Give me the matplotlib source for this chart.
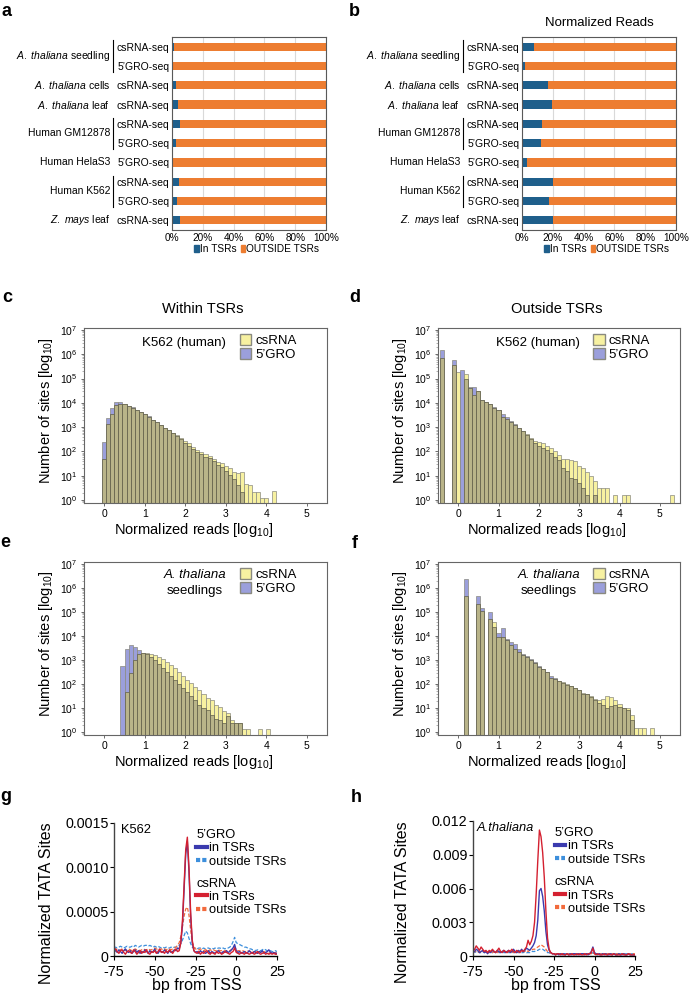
import matplotlib
matplotlib.use('Agg')
import matplotlib.pyplot as plt
import numpy as np
from matplotlib.patches import Patch
from matplotlib.lines import Line2D
from matplotlib.transforms import blended_transform_factory

plt.rcParams['font.family'] = ['Liberation Sans', 'DejaVu Sans']
plt.rcParams['mathtext.fontset'] = 'custom'
plt.rcParams['mathtext.rm'] = 'Liberation Sans'
plt.rcParams['mathtext.it'] = 'Liberation Sans:italic'

# ---------------- data: panels a / b ----------------
row_labels = ['csRNA-seq', '5’GRO-seq', 'csRNA-seq', 'csRNA-seq', 'csRNA-seq',
              '5’GRO-seq', '5’GRO-seq', 'csRNA-seq', '5’GRO-seq', 'csRNA-seq']
group_labels = [r'$\mathit{A.\ thaliana}$ seedling', r'$\mathit{A.\ thaliana}$ cells',
                r'$\mathit{A.\ thaliana}$ leaf', 'Human GM12878', 'Human HelaS3',
                'Human K562', r'$\mathit{Z.\ mays}$ leaf']
group_rows = [(0, 1), (2, 2), (3, 3), (4, 5), (6, 6), (7, 8), (9, 9)]
in_tsr_sites = [1.5, 0.5, 2.6, 3.9, 5.2, 2.4, 0.6, 4.5, 3.0, 5.4]      # % of sites
in_tsr_reads = [8.0, 2.2, 17.0, 19.3, 13.0, 12.5, 3.0, 20.0, 17.3, 20.0]  # % of normalized reads

# ---------------- data: histograms (log10 of number of sites, None = empty bin) ----------------
c_first = 0.0
c_cs = [1.71, 3.13, 3.53, 3.91, 3.96, 3.94, 3.87, 3.80, 3.70, 3.61,
        3.53, 3.43, 3.29, 3.20, 3.09, 2.98, 2.88, 2.78, 2.67, 2.57,
        2.42, 2.33, 2.19, 2.06, 1.96, 1.88, 1.82, 1.69, 1.58, 1.52,
        1.40, 1.30, 1.17, 1.10, 1.17, 0.68, 0.62, 0.34, 0.34, 0.07,
        0.07, None, 0.37]
c_gro = [2.37, 3.36, 3.80, 4.02, 4.02, 3.94, 3.88, 3.81, 3.72, 3.63,
         3.55, 3.46, 3.31, 3.21, 3.10, 2.98, 2.87, 2.76, 2.64, 2.53,
         2.35, 2.24, 2.10, 1.96, 1.88, 1.78, 1.74, 1.62, 1.44, 1.37,
         1.20, 1.05, 0.85, 0.62, 0.35, None, None, None, None, None,
         None, None, None]

d_first = -0.4
d_cs = [5.83, None, None, 5.56, 5.28, None, 5.17, 4.62, 4.32, 4.49,
        4.10, 4.02, 3.94, 3.80,
        3.70, 3.43, 3.33, 3.20, 3.09, 2.95, 2.84, 2.70, 2.55, 2.45,
        2.40, 2.33, 2.24, 2.15, 2.02, 1.85, 1.71, 1.71, 1.65, 1.60,
        1.40, 1.30, 1.15, 1.00, 0.80, 0.48, 0.48, 0.48, None, 0.20,
        None, 0.20, 0.20, None, None, None, None, None, None, None,
        None, None, None, 0.20]
d_gro = [6.17, None, None, 5.76, None, 5.35, 5.00, 4.66, 4.66, 4.49,
         4.12, 4.05, 3.95, 3.82,
         3.72, 3.53, 3.43, 3.25, 3.12, 2.96, 2.84, 2.67, 2.50, 2.35,
         2.24, 2.15, 2.05, 1.95, 1.78, 1.65, 1.30, 1.19, 0.89, 0.86,
         0.69, 0.48, 0.20, None, 0.20, None, None, None, None, None,
         None, None, None, None, None, None, None, None, None, None,
         None, None, None, None]

e_first = 0.45
e_cs = [None, 1.69, 2.44, 2.99, 3.26, 3.31, 3.31, 3.26, 3.22, 3.13,
        3.04, 2.92, 2.78, 2.65, 2.51, 2.33, 2.17, 2.03, 1.89, 1.76,
        1.59, 1.41, 1.32, 1.14, 1.04, 0.86, 0.80, 0.52, 0.38, 0.38,
        0.11, 0.11, None, None, 0.11, None, 0.11]
e_gro = [2.74, 3.47, 3.61, 3.54, 3.40, 3.31, 3.24, 3.13, 2.99, 2.83,
         2.65, 2.51, 2.33, 2.17, 2.00, 1.82, 1.69, 1.51, 1.34, 1.13,
         1.00, 0.91, 0.73, 0.55, 0.52, 0.38, 0.69, 0.38, 0.38, 0.38,
         None, None, None, None, None, None, None]

f_first = 0.2
f_cs = [5.67, None, None, 5.32, 5.02, None, 4.71, 4.57,
        3.95, 3.95, 3.85, 3.61, 3.47, 3.33, 3.20, 3.13, 3.02, 2.88,
        2.72, 2.61, 2.51, 2.24, 2.20, 2.14, 2.10, 2.01, 1.92, 1.82,
        1.76, 1.62, 1.59, 1.51, 1.37, 1.32, 1.37, 1.51, 1.48, 1.32,
        1.18, 1.00, 1.00, 0.73, 0.18, 0.18, 0.18, None, 0.18]
f_gro = [6.39, None, None, 5.67, 5.16, None, 4.98, 4.36,
         4.12, 4.33, 3.88, 3.74, 3.65, 3.47, 3.26, 3.15, 3.03, 2.90,
         2.74, 2.62, 2.52, 2.33, 2.24, 2.13, 2.06, 1.96, 1.91, 1.82,
         1.75, 1.59, 1.58, 1.48, 1.32, 1.21, 1.14, 1.00, 1.07, 1.14,
         1.04, 1.00, 0.93, 0.52, None, None, None, None, None]

# ---------------- data: TATA profiles (bp -75..25) ----------------
bp = list(range(-75, 26))
# panel g, units of 1e-4
g_gro_in = [0.5, 0.6, 0.4, 0.7, 0.5, 0.3, 0.6, 0.8, 0.5, 0.4,
            0.6, 0.3, 0.5, 0.7, 0.4, 0.6, 0.3, 0.5, 0.4, 0.7,
            0.5, 0.3, 0.6, 0.4, 0.5, 0.8, 0.4, 0.3, 0.6, 0.5,
            0.4, 0.7, 0.5, 0.3, 0.6, 0.4, 0.5, 0.7, 0.6, 0.9,
            0.8, 1.5, 3.5, 7.5, 11.5, 12.9, 9.5, 4.5, 1.5, 0.6,
            0.4, 0.5, 0.3, 0.6, 0.4, 0.5, 0.3, 0.4, 0.6, 0.3,
            0.5, 0.4, 0.3, 0.5, 0.6, 0.4, 0.3, 0.5, 0.4, 0.6,
            0.4, 0.5, 0.7, 0.9, 1.3, 0.6, 0.4, 0.5, 0.3, 0.4,
            0.5, 0.3, 0.4, 0.6, 0.4, 0.3, 0.5, 0.4, 0.3, 0.5,
            0.4, 0.6, 0.3, 0.4, 0.5, 0.7, 0.4, 0.3, 0.4, 0.3,
            0.3]
g_gro_out = [0.9, 1.0, 0.9, 1.0, 1.1, 1.0, 0.9, 1.0, 1.1, 1.0,
             1.0, 1.1, 1.0, 1.2, 1.1, 1.0, 1.1, 1.2, 1.1, 1.2,
             1.2, 1.1, 1.2, 1.1, 1.0, 1.1, 1.0, 1.1, 1.0, 0.9,
             1.0, 0.9, 1.0, 0.9, 0.9, 1.0, 0.9, 1.0, 1.0, 1.1,
             1.2, 1.4, 1.8, 2.3, 2.8, 2.6, 2.0, 1.4, 1.0, 0.9,
             0.9, 0.8, 0.9, 0.9, 0.8, 0.9, 0.8, 0.9, 0.9, 0.8,
             0.9, 0.8, 0.9, 0.8, 0.9, 0.9, 0.8, 0.9, 0.8, 0.9,
             0.9, 1.0, 1.2, 1.6, 2.1, 1.5, 1.4, 1.3, 1.2, 1.1,
             1.0, 1.0, 0.9, 0.8, 0.8, 0.7, 0.7, 0.6, 0.7, 0.6,
             0.6, 0.7, 0.8, 0.7, 0.6, 0.5, 0.6, 0.5, 0.5, 0.6,
             0.5]
g_cs_in = [0.6, 0.8, 0.5, 0.3, 0.6, 0.7, 0.4, 0.2, 0.5, 0.6,
           0.4, 0.3, 0.7, 0.5, 0.2, 0.4, 0.6, 0.3, 0.5, 0.4,
           0.7, 0.3, 0.2, 0.5, 0.4, 0.6, 0.3, 0.5, 0.8, 0.4,
           0.5, 0.3, 0.6, 0.4, 0.7, 0.5, 0.3, 0.6, 0.8, 0.5,
           0.6, 1.5, 4.0, 8.0, 12.0, 13.4, 10.0, 5.0, 1.8, 0.6,
           0.4, 0.3, 0.5, 0.2, 0.4, 0.3, 0.5, 0.6, 0.3, 0.2,
           0.4, 0.3, 0.2, 0.5, 0.3, 0.4, 0.2, 0.3, 0.5, 0.4,
           0.3, 0.2, 0.4, 0.5, 0.9, 0.4, 0.3, 0.2, 0.4, 0.3,
           0.2, 0.4, 0.3, 0.2, 0.3, 0.4, 0.2, 0.3, 0.5, 0.3,
           0.2, 0.3, 0.4, 0.2, 0.3, 0.2, 0.3, 0.2, 0.3, 0.2,
           0.2]
g_cs_out = [0.7, 0.8, 0.7, 0.6, 0.7, 0.8, 0.7, 0.6, 0.7, 0.8,
            0.7, 0.6, 0.7, 0.8, 0.7, 0.7, 0.6, 0.7, 0.8, 0.7,
            0.7, 0.8, 0.7, 0.7, 0.8, 0.9, 0.8, 0.7, 0.7, 0.8,
            0.7, 0.8, 0.7, 0.8, 0.8, 0.7, 0.8, 0.9, 1.0, 1.2,
            1.5, 2.2, 3.3, 4.5, 5.3, 5.5, 4.6, 3.0, 1.6, 1.0,
            0.8, 0.7, 0.7, 0.8, 0.7, 0.6, 0.7, 0.7, 0.6, 0.7,
            0.6, 0.7, 0.6, 0.6, 0.7, 0.6, 0.6, 0.5, 0.6, 0.6,
            0.6, 0.6, 0.7, 0.8, 1.0, 0.7, 0.6, 0.6, 0.5, 0.6,
            0.5, 0.5, 0.6, 0.5, 0.5, 0.4, 0.5, 0.5, 0.4, 0.5,
            0.4, 0.4, 0.5, 0.4, 0.4, 0.3, 0.4, 0.4, 0.3, 0.4,
            0.3]
# panel h, units of 1e-3
h_gro_in = [0.3, 0.4, 0.6, 0.5, 0.3, 0.4, 0.5, 0.3, 0.4, 0.2,
            0.4, 0.3, 0.5, 0.4, 0.3, 0.5, 0.4, 0.3, 0.4, 0.5,
            0.3, 0.4, 0.5, 0.3, 0.4, 0.6, 0.4, 0.3, 0.5, 0.4,
            0.6, 0.4, 0.5, 0.7, 0.6, 0.5, 0.7, 0.9, 1.2, 1.8,
            3.2, 5.8, 6.0, 5.3, 4.0, 2.2, 1.0, 0.5, 0.3, 0.2,
            0.2, 0.1, 0.2, 0.1, 0.2, 0.1, 0.2, 0.1, 0.2, 0.1,
            0.2, 0.1, 0.2, 0.2, 0.1, 0.2, 0.1, 0.2, 0.2, 0.1,
            0.2, 0.1, 0.2, 0.4, 0.8, 0.3, 0.2, 0.1, 0.2, 0.1,
            0.2, 0.1, 0.2, 0.1, 0.1, 0.2, 0.1, 0.2, 0.1, 0.1,
            0.2, 0.1, 0.1, 0.2, 0.1, 0.1, 0.2, 0.1, 0.1, 0.1,
            0.1]
h_gro_out = [0.3, 0.4, 0.3, 0.4, 0.3, 0.3, 0.4, 0.3, 0.4, 0.3,
             0.4, 0.3, 0.3, 0.4, 0.3, 0.4, 0.3, 0.3, 0.4, 0.3,
             0.3, 0.4, 0.3, 0.3, 0.4, 0.3, 0.3, 0.4, 0.3, 0.3,
             0.3, 0.3, 0.4, 0.3, 0.3, 0.3, 0.4, 0.4, 0.4, 0.5,
             0.5, 0.6, 0.6, 0.6, 0.5, 0.4, 0.3, 0.3, 0.2, 0.2,
             0.2, 0.2, 0.2, 0.2, 0.2, 0.2, 0.2, 0.2, 0.2, 0.2,
             0.2, 0.2, 0.2, 0.2, 0.2, 0.2, 0.2, 0.2, 0.2, 0.2,
             0.2, 0.2, 0.2, 0.2, 0.3, 0.2, 0.2, 0.2, 0.2, 0.2,
             0.2, 0.2, 0.2, 0.2, 0.2, 0.2, 0.2, 0.2, 0.2, 0.2,
             0.2, 0.2, 0.2, 0.2, 0.2, 0.2, 0.2, 0.2, 0.2, 0.2,
             0.2]
h_cs_in = [0.4, 0.6, 0.9, 0.7, 0.5, 0.8, 0.6, 0.4, 0.5, 0.3,
           0.5, 0.4, 0.6, 0.4, 0.3, 0.5, 0.7, 0.4, 0.3, 0.5,
           0.4, 0.3, 0.5, 0.4, 0.6, 0.4, 0.3, 0.5, 0.4, 0.3,
           0.5, 0.4, 0.6, 0.8, 1.4, 1.0, 1.3, 1.8, 3.0, 5.5,
           8.5, 11.2, 10.6, 9.2, 7.0, 4.0, 1.6, 0.6, 0.3, 0.2,
           0.2, 0.1, 0.2, 0.2, 0.1, 0.2, 0.1, 0.1, 0.2, 0.1,
           0.1, 0.2, 0.1, 0.1, 0.2, 0.1, 0.2, 0.1, 0.1, 0.2,
           0.1, 0.2, 0.2, 0.3, 0.7, 0.2, 0.1, 0.2, 0.1, 0.1,
           0.1, 0.2, 0.1, 0.1, 0.2, 0.1, 0.1, 0.2, 0.1, 0.1,
           0.1, 0.1, 0.2, 0.1, 0.1, 0.1, 0.2, 0.1, 0.1, 0.1,
           0.1]
h_cs_out = [0.3, 0.4, 0.4, 0.3, 0.4, 0.3, 0.4, 0.4, 0.3, 0.4,
            0.3, 0.4, 0.3, 0.4, 0.4, 0.3, 0.4, 0.3, 0.4, 0.4,
            0.4, 0.3, 0.4, 0.4, 0.3, 0.4, 0.4, 0.3, 0.4, 0.4,
            0.4, 0.4, 0.4, 0.5, 0.4, 0.5, 0.5, 0.6, 0.6, 0.7,
            0.8, 0.9, 1.0, 0.9, 0.8, 0.6, 0.4, 0.3, 0.3, 0.2,
            0.2, 0.2, 0.2, 0.2, 0.2, 0.2, 0.2, 0.2, 0.2, 0.2,
            0.2, 0.2, 0.2, 0.2, 0.2, 0.2, 0.2, 0.2, 0.2, 0.2,
            0.2, 0.2, 0.2, 0.2, 0.3, 0.2, 0.2, 0.2, 0.2, 0.2,
            0.2, 0.2, 0.2, 0.2, 0.2, 0.2, 0.2, 0.2, 0.2, 0.2,
            0.2, 0.2, 0.2, 0.2, 0.2, 0.2, 0.2, 0.2, 0.2, 0.2,
            0.2]

# ---------------- style ----------------
BLUE, ORANGE = '#1f5f8b', '#ed7d31'
YELLOW, PURPLE, OLIVE = '#f7f1a1', '#9b9fdb', '#b9b489'
GRO_IN, GRO_OUT, CS_IN, CS_OUT = '#3a3aae', '#3d8fdc', '#d42030', '#f26a3c'
HIST_YMIN = 10 ** -0.12

W, H = 692, 994
fig = plt.figure(figsize=(W / 100, H / 100), dpi=100)


def px_axes(left, top, right, bottom):
    return fig.add_axes([left / W, 1 - bottom / H, (right - left) / W, (bottom - top) / H])


def letter(x, y, s):
    fig.text(x / W, 1 - y / H, s, fontsize=13, fontweight='bold', va='baseline', ha='left')


def stacked(ax, pct):
    y = np.arange(len(row_labels))
    pct = np.array(pct)
    ax.barh(y, pct, height=0.42, color=BLUE, zorder=2)
    ax.barh(y, 100 - pct, left=pct, height=0.42, color=ORANGE, zorder=2)
    ax.set_xlim(0, 100)
    ax.set_ylim(9.5, -0.5)
    ax.set_xticks(range(0, 101, 20))
    ax.set_xticklabels([f'{v}%' for v in range(0, 101, 20)])
    ax.grid(axis='x', color='#d9d9d9', lw=0.8, zorder=0)
    ax.set_yticks(y)
    ax.set_yticklabels(row_labels, fontsize=7.5)
    ax.tick_params(axis='y', length=0, pad=2)
    ax.tick_params(axis='x', length=0, labelsize=7.2, pad=2)
    for s in ax.spines.values():
        s.set_color('#595959')
        s.set_linewidth(0.8)
    trans = blended_transform_factory(ax.transAxes, ax.transData)
    for lab, (r0, r1) in zip(group_labels, group_rows):
        ax.text(-0.40, (r0 + r1) / 2, lab, transform=trans, ha='right', va='center', fontsize=7.5)
        if r1 > r0:
            ax.plot([-0.384, -0.384], [r0 - 0.32, r1 + 0.32], transform=trans,
                    color='k', lw=0.8, clip_on=False)
    ax.legend(handles=[Patch(color=BLUE), Patch(color=ORANGE)], labels=['In TSRs', 'OUTSIDE TSRs'],
              loc='center', bbox_to_anchor=(0.55, -0.1), ncol=2, frameon=False, fontsize=7.3,
              handlelength=0.45, handleheight=0.7, handletextpad=0.1, columnspacing=0.4,
              borderaxespad=0, borderpad=0)


def histo(ax, first, cs_log, gro_log, label, italic):
    cs = 10.0 ** np.array(cs_log, dtype=float)
    gro = 10.0 ** np.array(gro_log, dtype=float)
    x = first + 0.1 * np.arange(len(cs))
    top = np.fmax(cs, gro)
    both = np.minimum(cs, gro)
    cs_wins = np.nan_to_num(cs) >= np.nan_to_num(gro)
    colors = np.where(cs_wins, YELLOW, PURPLE)
    m = ~np.isnan(top)
    ax.bar(x[m], top[m] - HIST_YMIN, bottom=HIST_YMIN, width=0.1, color=colors[m],
           edgecolor='#8a8a80', linewidth=0.5)
    m2 = ~np.isnan(both)
    ax.bar(x[m2], both[m2] - HIST_YMIN, bottom=HIST_YMIN, width=0.1, color=OLIVE,
           edgecolor='#5e5c48', linewidth=0.5)
    ax.set_yscale('log')
    ax.set_ylim(HIST_YMIN, 10 ** 7.08)
    ax.set_xlim(-0.5, 5.5)
    ax.set_yticks([10.0 ** k for k in range(8)])
    ax.set_xticks(range(6))
    ax.tick_params(axis='both', labelsize=7.5, length=2.5, width=0.6, color='#555555', pad=2)
    ax.tick_params(axis='y', which='minor', length=1.2, width=0.4, color='#777777')
    for s in ax.spines.values():
        s.set_color('#666666')
        s.set_linewidth(0.8)
    ax.set_ylabel('Number of sites [log$_{\\mathregular{10}}$]', fontsize=10.5)
    ax.set_xlabel('Normalized reads [log$_{\\mathregular{10}}$]', fontsize=10.5)
    ax.yaxis.set_label_coords(-0.12, 0.53)
    ax.xaxis.set_label_coords(0.45, -0.105)
    if italic:
        ax.text(0.457, 0.925, 'A. thaliana', style='italic', transform=ax.transAxes,
                ha='center', va='center', fontsize=9.5)
        ax.text(0.457, 0.835, 'seedlings', transform=ax.transAxes,
                ha='center', va='center', fontsize=9.5)
    else:
        ax.text(0.585, 0.912, label, transform=ax.transAxes, ha='right', va='center', fontsize=9.5)
    ax.legend(handles=[Patch(facecolor=YELLOW, edgecolor='#8a8a80'),
                       Patch(facecolor=PURPLE, edgecolor='#8a8a80')],
              labels=['csRNA', '5’GRO'], loc='upper left', bbox_to_anchor=(0.64, 0.965),
              frameon=False, fontsize=9.5, handlelength=0.9, handleheight=0.9,
              handletextpad=0.3, labelspacing=0.05, borderpad=0, borderaxespad=0)


def profile(ax, scale, gro_in, gro_out, cs_in, cs_out, yticks, ylabels, tag, tag_italic):
    x = np.array(bp)
    ax.plot(x, np.array(gro_out) * scale, color=GRO_OUT, lw=0.9, ls=(0, (3, 1.5)))
    ax.plot(x, np.array(cs_out) * scale, color=CS_OUT, lw=0.9, ls=(0, (3, 1.5)))
    ax.plot(x, np.array(gro_in) * scale, color=GRO_IN, lw=1.0)
    ax.plot(x, np.array(cs_in) * scale, color=CS_IN, lw=1.0)
    ax.set_xlim(-75, 25)
    ax.set_ylim(0, yticks[-1])
    ax.set_xticks([-75, -50, -25, 0, 25])
    ax.set_xticklabels(['-75', '-50', '-25', '0', '25'])
    ax.set_yticks(yticks)
    ax.set_yticklabels(ylabels)
    ax.spines['top'].set_visible(False)
    ax.spines['right'].set_visible(False)
    for s in ('left', 'bottom'):
        ax.spines[s].set_linewidth(1.0)
    ax.spines['left'].set_color('#444444')
    ax.tick_params(axis='y', labelsize=10.3, length=3, width=0.8, pad=1)
    ax.tick_params(axis='x', labelsize=10.3, length=3, width=0.8, pad=3.5)
    ax.set_ylabel('Normalized TATA Sites', fontsize=11.5)
    ax.set_xlabel('bp from TSS', fontsize=11.5)
    ax.xaxis.set_label_coords(0.51, -0.165)
    ax.text(0.04 if not tag_italic else 0.02, 0.95, tag, transform=ax.transAxes, ha='left',
            va='center', fontsize=9.3, style='italic' if tag_italic else 'normal')
    leg1 = ax.legend(handles=[Line2D([], [], color=GRO_IN, lw=3),
                              Line2D([], [], color=GRO_OUT, lw=3, ls=(0, (1, 0.5)))],
                     labels=['in TSRs', 'outside TSRs'], title='5’GRO', loc='upper left',
                     bbox_to_anchor=(0.505, 0.955), frameon=False, fontsize=9.3, title_fontsize=9.3,
                     handlelength=0.8, handletextpad=0.2, labelspacing=0.1, borderpad=0,
                     borderaxespad=0)
    leg1._legend_box.align = 'left'
    ax.add_artist(leg1)
    leg2 = ax.legend(handles=[Line2D([], [], color=CS_IN, lw=3),
                              Line2D([], [], color=CS_OUT, lw=3, ls=(0, (1, 0.5)))],
                     labels=['in TSRs', 'outside TSRs'], title='csRNA', loc='upper left',
                     bbox_to_anchor=(0.505, 0.59), frameon=False, fontsize=9.3, title_fontsize=9.3,
                     handlelength=0.8, handletextpad=0.2, labelspacing=0.1, borderpad=0,
                     borderaxespad=0)
    leg2._legend_box.align = 'left'


# ---- a / b ----
ax_a = px_axes(172, 37, 326, 230)
stacked(ax_a, in_tsr_sites)
ax_b = px_axes(522, 37, 676, 230)
stacked(ax_b, in_tsr_reads)
ax_b.text(0.5, 1.07, 'Normalized Reads', transform=ax_b.transAxes, ha='center', va='center',
          fontsize=9.5)

# ---- c / d / e / f ----
ax_c = px_axes(84, 328, 327, 503)
histo(ax_c, c_first, c_cs, c_gro, 'K562 (human)', False)
ax_c.text(0.49, 1.11, 'Within TSRs', transform=ax_c.transAxes, ha='center', va='center', fontsize=10.5)
ax_d = px_axes(438, 328, 680, 503)
histo(ax_d, d_first, d_cs, d_gro, 'K562 (human)', False)
ax_d.text(0.49, 1.11, 'Outside TSRs', transform=ax_d.transAxes, ha='center', va='center', fontsize=10.5)
ax_e = px_axes(84, 562, 327, 735)
histo(ax_e, e_first, e_cs, e_gro, None, True)
ax_f = px_axes(438, 562, 680, 735)
histo(ax_f, f_first, f_cs, f_gro, None, True)

# ---- g / h ----
ax_g = px_axes(114, 823, 277, 956)
profile(ax_g, 1e-4, g_gro_in, g_gro_out, g_cs_in, g_cs_out,
        [0, 0.0005, 0.0010, 0.0015], ['0', '0.0005', '0.0010', '0.0015'], 'K562', False)
ax_g.yaxis.set_label_coords(-0.37, 0.40)
ax_h = px_axes(473, 821, 635, 956)
profile(ax_h, 1e-3, h_gro_in, h_gro_out, h_cs_in, h_cs_out,
        [0, 0.003, 0.006, 0.009, 0.012], ['0', '0.003', '0.006', '0.009', '0.012'],
        'A.thaliana', True)
ax_h.yaxis.set_label_coords(-0.39, 0.40)

letter(1, 16, 'a')
letter(349, 16, 'b')
letter(2, 302, 'c')
letter(349, 302, 'd')
letter(0, 547, 'e')
letter(352, 548, 'f')
letter(0, 801, 'g')
letter(351, 802, 'h')

fig.savefig('out.png', dpi=100)
